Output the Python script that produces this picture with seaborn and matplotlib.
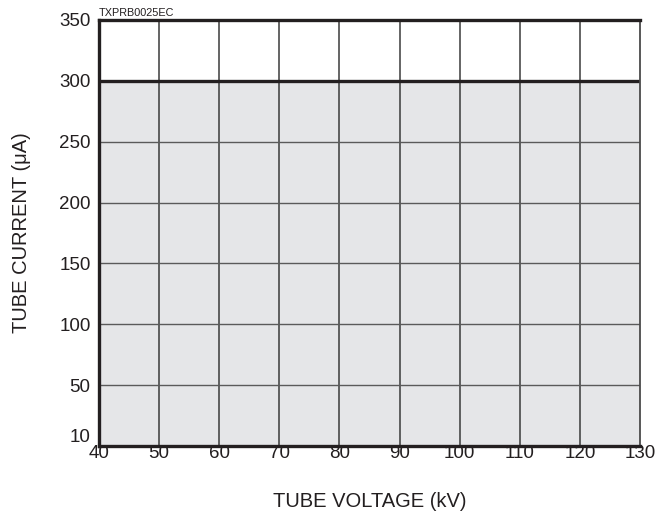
import numpy as np
import pandas as pd
import matplotlib
matplotlib.use("Agg")
import matplotlib.pyplot as plt
import seaborn as sns

# ---- data ----
voltage_kv = [40, 130]          # operating voltage range (x extent of region)
current_limit_ua = [300, 300]   # max tube current across range
current_floor_ua = [10, 10]     # bottom of axis
x_ticks = [40, 50, 60, 70, 80, 90, 100, 110, 120, 130]
y_ticks = [10, 50, 100, 150, 200, 250, 300, 350]
code_label = "TXPRB0025EC"

df = pd.DataFrame({"voltage": voltage_kv, "limit": current_limit_ua, "floor": current_floor_ua})

sns.set_theme(style="white")
plt.rcParams["font.family"] = ["Liberation Sans", "DejaVu Sans"]

fig = plt.figure(figsize=(6.56, 5.19), dpi=100)
ax = fig.add_axes([99/656, 1-446/519, (640-99)/656, (446-20)/519])

# evenly spaced tick scale (10..350 with equal spacing between labelled ticks)
yt = np.array(y_ticks, dtype=float)
idx = np.arange(len(yt), dtype=float)
def fwd(v):
    return np.interp(v, yt, idx)
def inv(p):
    return np.interp(p, idx, yt)
ax.set_yscale("function", functions=(fwd, inv))

ax.fill_between(df["voltage"], df["floor"], df["limit"], color="#e5e6e8", zorder=0, linewidth=0)
sns.lineplot(data=df, x="voltage", y="limit", ax=ax, color="#231f20", linewidth=2.4, zorder=5)

ax.set_xlim(voltage_kv[0], voltage_kv[1])
ax.set_ylim(y_ticks[0], y_ticks[-1])
ax.set_xticks(x_ticks)
ax.set_yticks(y_ticks)
ax.set_xticklabels([str(v) for v in x_ticks], fontsize=13.5, color="#231f20")
ax.set_yticklabels([str(v) for v in y_ticks], fontsize=13.5, color="#231f20")
ax.tick_params(axis="both", length=0)
ax.tick_params(axis="x", pad=-1)
ax.tick_params(axis="y", pad=6)
ax.get_yticklabels()[0].set_va("bottom")

for v in x_ticks[1:-1]:
    ax.axvline(v, color="#3a3a3a", linewidth=1.1, zorder=2)
for v in y_ticks[1:-1]:
    if v != 300:
        ax.axhline(v, color="#5a5a5a", linewidth=1.0, zorder=2)

for side in ["left", "bottom", "top"]:
    ax.spines[side].set_color("#231f20")
    ax.spines[side].set_linewidth(2.4)
ax.spines["right"].set_color("#4a4a4a")
ax.spines["right"].set_linewidth(1.3)
for s in ax.spines.values():
    s.set_zorder(6)

ax.set_xlabel("TUBE VOLTAGE (kV)", fontsize=14.5, color="#231f20", labelpad=22)
ax.set_ylabel("TUBE CURRENT (μA)", fontsize=14.5, color="#231f20")
ax.yaxis.set_label_coords(-0.126, 0.5)
ax.text(0.0, 1.005, code_label, transform=ax.transAxes, fontsize=7.8, color="#231f20",
        ha="left", va="bottom")

fig.savefig("out.png", dpi=100)
